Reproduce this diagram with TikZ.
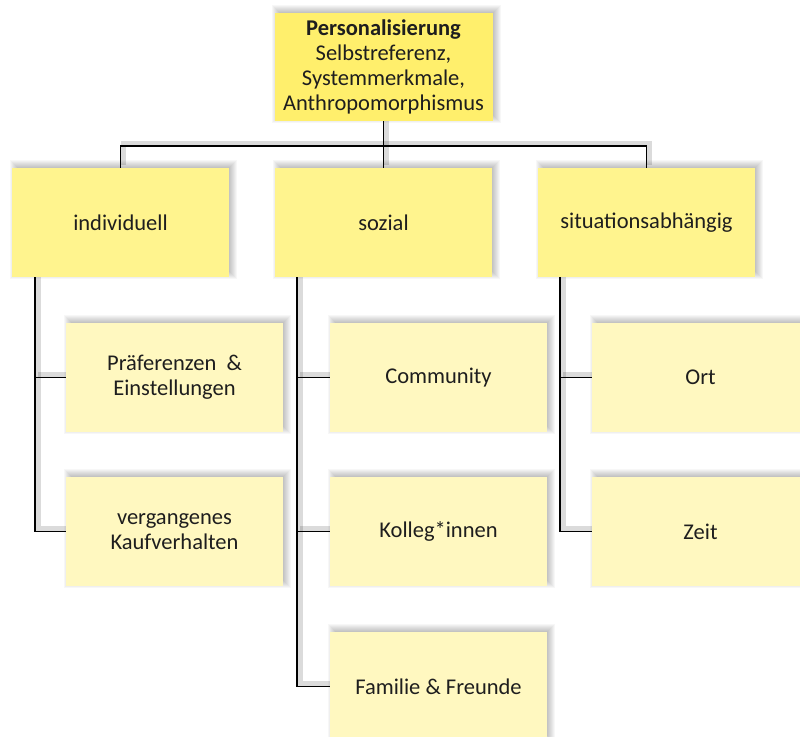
\documentclass[tikz,border=0pt]{standalone}
\usepackage{fontspec}
\setmainfont{Carlito}
\usetikzlibrary{calc,backgrounds}

\definecolor{topfill}{RGB}{255,239,108}
\definecolor{midfill}{RGB}{255,244,142}
\definecolor{leaffill}{RGB}{255,248,192}
\definecolor{textcol}{RGB}{30,30,30}

\tikzset{
  box/.style={draw=none, minimum width=217pt, minimum height=109pt, inner sep=2pt,
    align=center, text=textcol, font=\fontsize{22.5}{25}\selectfont},
  topbox/.style={box, fill=topfill, minimum width=218pt, minimum height=108pt},
  midbox/.style={box, fill=midfill},
  leafbox/.style={box, fill=leaffill},
  link/.style={draw=black, line width=1.8pt,
    preaction={draw=black, draw opacity=0.14, line width=5pt, transform canvas={xshift=3pt,yshift=3pt}}},
}

% soft shadow behind a box, offset up and to the right
\newcommand{\softshade}[1]{%
  \foreach \e in {-5,...,5}{%
    \fill[black, opacity=0.032]
      ($(#1.south west)+(3-\e,-3+\e)$) rectangle ($(#1.north east)+(3+\e,-3-\e)$);
  }%
}

\begin{document}
\begin{tikzpicture}[x=1pt,y=-1pt]
\useasboundingbox (0,0) rectangle (800,736);

% boxes
\node[topbox] (top) at (383.5,67) {\textbf{Personalisierung}\\Selbstreferenz,\\Systemmerkmale,\\Anthropomorphismus};

\node[midbox] (ind) at (120.5,222.5) {individuell};
\node[midbox] (soz) at (383.5,222.5) {sozial};
\node[midbox] (sit) at (646.5,222.5) {situationsabhängig};

\node[leafbox] (pref) at (174.5,377.5) {Präferenzen \ \&\\Einstellungen};
\node[leafbox] (verg) at (174.5,531.5) {vergangenes\\Kaufverhalten};
\node[leafbox] (comm) at (438.5,377.5) {Community};
\node[leafbox] (koll) at (438.5,531.5) {Kolleg*innen};
\node[leafbox] (fam)  at (438.5,686.5) {Familie \& Freunde};
\node[leafbox] (ort)  at (700.5,377.5) {Ort};
\node[leafbox] (zeit) at (700.5,531.5) {Zeit};

% rails of the tree
\coordinate (bus) at (383,146);
\coordinate (lx) at (35,0);
\coordinate (mx) at (297,0);
\coordinate (rx) at (560,0);

\begin{scope}[on background layer]
  \fill[white] (0,0) rectangle (800,736);
  \foreach \n in {top,ind,soz,sit,pref,verg,comm,koll,fam,ort,zeit}{\softshade{\n}}

  \draw[link] (top.south) -- (soz.north);
  \draw[link] (ind.north) -- (ind.north |- bus) -- (sit.north |- bus) -- (sit.north);

  \draw[link] (ind.south -| lx) |- (verg.west);
  \draw[link] (pref.west -| lx) -- (pref.west);

  \draw[link] (soz.south -| mx) |- (fam.west);
  \draw[link] (comm.west -| mx) -- (comm.west);
  \draw[link] (koll.west -| mx) -- (koll.west);

  \draw[link] (sit.south -| rx) |- (zeit.west);
  \draw[link] (ort.west -| rx) -- (ort.west);
\end{scope}
\end{tikzpicture}
\end{document}
